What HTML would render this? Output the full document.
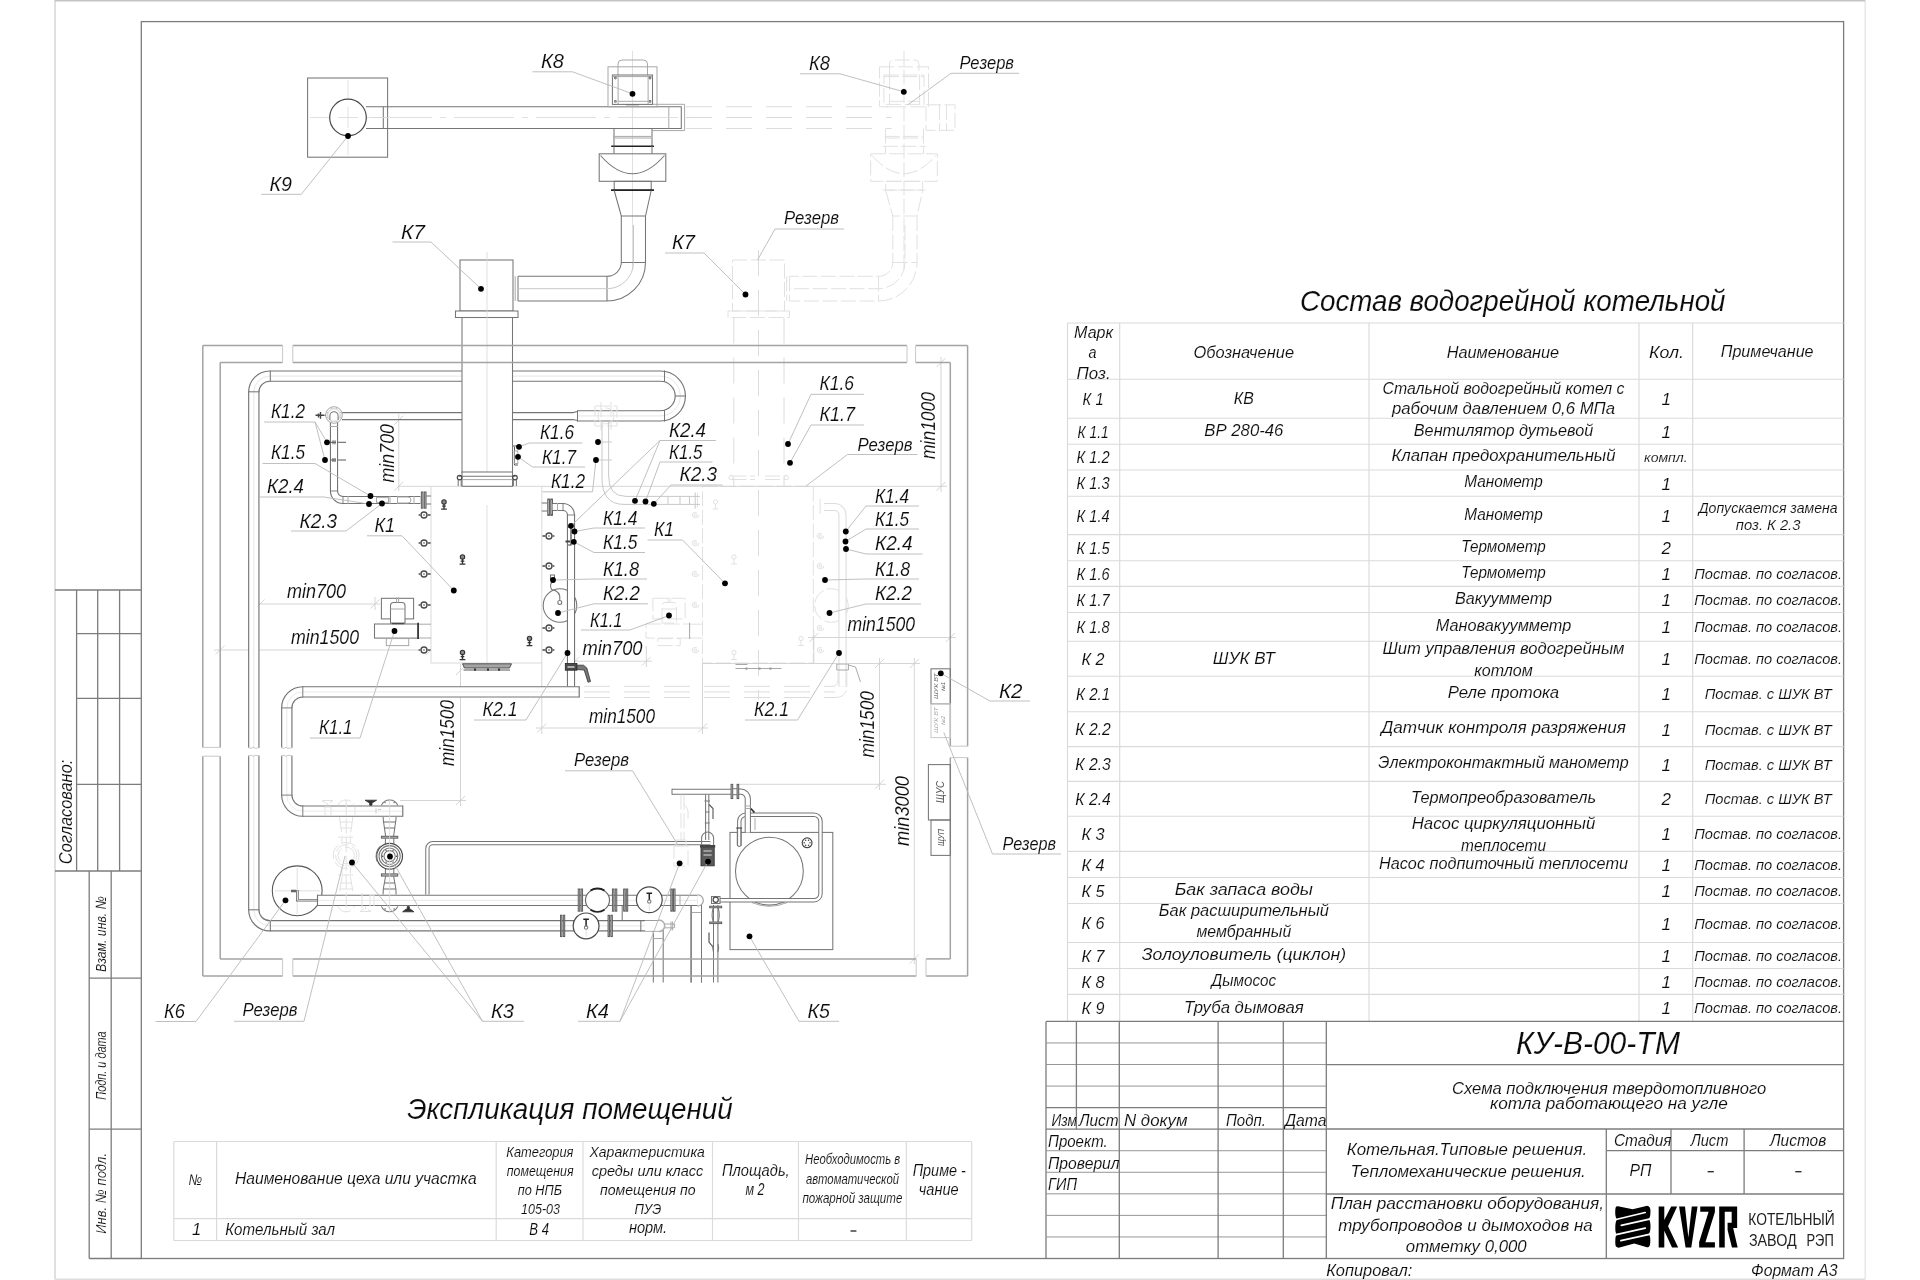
<!DOCTYPE html>
<html lang="ru"><head><meta charset="utf-8"><title>КУ-В-00-ТМ</title>
<style>
html,body{margin:0;padding:0;background:#fff;}
body{width:1920px;height:1280px;overflow:hidden;}
svg{display:block;filter:grayscale(1);}
text{font-family:"Liberation Sans",sans-serif;}
.t{font-style:italic;fill:#0c0c0c;stroke:#fff;stroke-width:0.12px;}
.tg{font-style:italic;fill:#222;}
.pg,.pg2,.fr,.fr2,.tb,.tk,.w,.m,.d,.k,.g,.v,.x,.xd,.ld,.dm,.cl{fill:none;}
.pg{stroke:#d9d9d9;stroke-width:1.6;}
.pg2{stroke:#c4c4c4;stroke-width:1.6;}
.fr{stroke:#7c7c7c;stroke-width:1.3;}
.fr2{stroke:#969696;stroke-width:1;}
.tb{stroke:#dadada;stroke-width:1.15;}
.tk{stroke:#222;stroke-width:1.3;}
.w{stroke:#a3a3a3;stroke-width:1.5;}
.m{stroke:#767676;stroke-width:1.05;}
.d{stroke:#4a4a4a;stroke-width:1.2;}
.k{stroke:#222;stroke-width:1.6;}
.g{stroke:#a8a8a8;stroke-width:1;}
.v{stroke:#c9c9c9;stroke-width:1;}
.bb{stroke:#d9d9d9;stroke-width:1;fill:none;}
.x{stroke:#e1e1e1;stroke-width:1;stroke-dasharray:15 3.5;}
.xd{stroke:#dcdcdc;stroke-width:1;stroke-dasharray:26 14;}
.ld{stroke:#b9b9b9;stroke-width:0.9;}
.dm{stroke:#cdcdcd;stroke-width:0.85;}
.cl{stroke:#d8d8d8;stroke-width:0.8;}
.pp{stroke:#747474;fill:none;}
.pw{stroke:#fff;fill:none;}
.wf{fill:#fff;}
.dot{fill:#000;stroke:none;}
.bk{fill:#222;stroke:none;}
</style></head><body>
<svg width="1920" height="1280" viewBox="0 0 1920 1280">
<rect x="0" y="0" width="1920" height="1280" style="fill:#fff"/>
<path class="pg" d="M55 0V1279.3"/>
<path class="pg" d="M55 1279.3H1865.3" style="stroke:#dcdcdc"/>
<path class="pg" d="M1865.3 0V1279.3" style="stroke:#e8e8e8"/>
<path class="pg2" d="M55 0.6L1865 0.6"/>
<rect class="fr" x="141.3" y="21.6" width="1702.3" height="1236.9"/>
<path class="fr" d="M55 590L141.3 590"/>
<path class="fr" d="M76.6 590L76.6 871"/>
<path class="fr" d="M97.7 590L97.7 871"/>
<path class="fr" d="M119.6 590L119.6 871"/>
<path class="fr" d="M76.6 633.7L141.3 633.7"/>
<path class="fr" d="M76.6 698.4L141.3 698.4"/>
<path class="fr" d="M76.6 784.3L141.3 784.3"/>
<path class="fr" d="M55 871L141.3 871"/>
<path class="fr" d="M89.2 871L89.2 1258.5"/>
<path class="fr" d="M111.2 871L111.2 1258.5"/>
<path class="fr" d="M89.2 978.2L141.3 978.2"/>
<path class="fr" d="M89.2 1129.2L141.3 1129.2"/>
<path class="fr" d="M89.2 1258.5L141.3 1258.5"/>
<text class="t" transform="translate(72.4 864.2) rotate(-90)" font-size="19" textLength="104.5" lengthAdjust="spacingAndGlyphs">Согласовано:</text>
<text class="t" transform="translate(105.6 972) rotate(-90)" font-size="15" textLength="76" lengthAdjust="spacingAndGlyphs">Взам. инв. №</text>
<text class="t" transform="translate(105.6 1099.8) rotate(-90)" font-size="15" textLength="68.5" lengthAdjust="spacingAndGlyphs">Подп. и дата</text>
<text class="t" transform="translate(105.6 1233.7) rotate(-90)" font-size="15" textLength="80.7" lengthAdjust="spacingAndGlyphs">Инв. № подл.</text>
<path class="x" d="M904 51L904 270"/>
<path class="xd" d="M686 106.8L891.5 106.8"/>
<path class="xd" d="M686 117.5L891.5 117.5"/>
<path class="xd" d="M686 128.5L891.5 128.5"/>
<rect class="x" x="926" y="104.8" width="29" height="25.5"/>
<path class="x" d="M939.5 104.8L939.5 130.3"/>
<path class="x" d="M946.5 104.8L946.5 130.3"/>
<rect class="x" x="879.5" y="66.8" width="49" height="40"/>
<path class="x" d="M889.5 75V64 Q889.5 60 893.5 60H915Q919 60 919 64V75"/>
<rect class="x" x="883.9" y="75" width="40.1" height="29.4"/>
<path class="x" d="M889.6 75L889.6 104.4"/>
<path class="x" d="M919.6 75L919.6 104.4"/>
<path class="x" d="M883.9 76.6L924 76.6"/>
<path class="x" d="M889.6 101.3L919.6 101.3"/>
<path class="x" d="M885.5 128.5L885.5 146.3"/>
<path class="x" d="M923.5 128.5L923.5 146.3"/>
<path class="x" d="M884.7 136.4L922.7 136.4"/>
<path class="x" d="M884.7 138L922.7 138"/>
<path class="x" d="M882.7 146.3L925.5 146.3"/>
<path class="x" d="M885.5 146.3L885.5 153.8"/>
<path class="x" d="M923.5 146.3L923.5 153.8"/>
<rect class="x" x="870.7" y="153.8" width="66.6" height="27.5"/>
<path class="x" d="M872 155.5Q904 192 936 155.5"/>
<rect class="x" x="885.7" y="181.3" width="37" height="8.8"/>
<path class="x" d="M882.5 190.1L925.5 190.1"/>
<path class="x" d="M885.7 190.5L892.8 216H917L922.7 190.5"/>
<path class="x" d="M892.8 216V262.5A14.3 14.3 0 0 1 878.5 276.3H789.5"/>
<path class="x" d="M917 216V262.5A38.5 38.5 0 0 1 878.5 301H789.5"/>
<path class="x" d="M892.8 262.5L917 262.5"/>
<path class="x" d="M878.5 276.3L878.5 301"/>
<path class="x" d="M789.5 276.3L789.5 301"/>
<path class="x" d="M786.7 276.3L786.7 301"/>
<path class="x" d="M905 225V262.5A26.5 26.5 0 0 1 878.5 288.7H789.5"/>

<rect class="x" x="732.5" y="260" width="52" height="51"/>
<rect class="x" x="728" y="311" width="61.5" height="6.5"/>
<path class="xd" d="M733.8 317.5L733.8 486"/>
<path class="xd" d="M784 317.5L784 486"/>
<path class="xd" d="M758.5 250L758.5 700"/>
<path class="x" d="M731.5 476L755 476"/>
<path class="x" d="M765 476L786 476"/>
<path class="x" d="M731.5 479.5L755 479.5"/>
<path class="x" d="M765 479.5L786 479.5"/>
<circle class="x" cx="731.2" cy="477.5" r="2.2"/>
<circle class="x" cx="786.2" cy="477.5" r="2.2"/>
<rect class="x" x="702.5" y="486.3" width="110.8" height="176.7"/>
<ellipse class="x" cx="695.5" cy="515" rx="3.4" ry="2.6"/>
<ellipse class="x" cx="695.5" cy="515" rx="1.4" ry="1"/>
<ellipse class="x" cx="695.5" cy="543" rx="3.4" ry="2.6"/>
<ellipse class="x" cx="695.5" cy="543" rx="1.4" ry="1"/>
<ellipse class="x" cx="695.5" cy="574" rx="3.4" ry="2.6"/>
<ellipse class="x" cx="695.5" cy="574" rx="1.4" ry="1"/>
<ellipse class="x" cx="695.5" cy="605" rx="3.4" ry="2.6"/>
<ellipse class="x" cx="695.5" cy="605" rx="1.4" ry="1"/>
<ellipse class="x" cx="695.5" cy="650" rx="3.4" ry="2.6"/>
<ellipse class="x" cx="695.5" cy="650" rx="1.4" ry="1"/>
<ellipse class="x" cx="820.5" cy="536" rx="3.4" ry="2.6"/>
<ellipse class="x" cx="820.5" cy="536" rx="1.4" ry="1"/>
<ellipse class="x" cx="820.5" cy="566" rx="3.4" ry="2.6"/>
<ellipse class="x" cx="820.5" cy="566" rx="1.4" ry="1"/>
<ellipse class="x" cx="820.5" cy="628" rx="3.4" ry="2.6"/>
<ellipse class="x" cx="820.5" cy="628" rx="1.4" ry="1"/>
<ellipse class="x" cx="820.5" cy="650" rx="3.4" ry="2.6"/>
<ellipse class="x" cx="820.5" cy="650" rx="1.4" ry="1"/>
<circle class="x" cx="715.5" cy="502" r="2.1"/>
<path class="x" d="M715.5 504V509 M712.7 509H718.3"/>
<circle class="x" cx="734" cy="557" r="2.1"/>
<path class="x" d="M734 559V564 M731.2 564H736.8"/>
<circle class="x" cx="801" cy="638.5" r="2.1"/>
<path class="x" d="M801 640.5V645.5 M798.2 645.5H803.8"/>
<circle class="x" cx="734" cy="652.5" r="2.1"/>
<path class="x" d="M734 654.5V659.5 M731.2 659.5H736.8"/>
<path class="g" d="M735.5 664.5H747.5 M735.5 668.5H781.5"/>
<rect x="745.5" y="667.5" width="2" height="2.2" fill="#999"/>
<rect x="758.5" y="667.5" width="2" height="2.2" fill="#999"/>
<rect x="769.5" y="667.5" width="2" height="2.2" fill="#999"/>
<rect class="x" x="652.9" y="598.3" width="32.2" height="20.6"/>
<path class="x" d="M662 623.1V605.5Q662 602.5 665 602.5H673.5Q676.5 602.5 676.5 605.5V623.1Z"/>
<path class="x" d="M662 609L676.5 609"/>
<path class="x" d="M668.1 597.4L668.1 602.5"/>
<path class="x" d="M670.1 597.4L670.1 602.5"/>
<rect class="x" x="646" y="624" width="43.6" height="14.1"/>
<rect class="x" x="657.8" y="638.6" width="22.4" height="7"/>
<path class="x" d="M689.6 624.2L702.5 624.2"/>
<path class="x" d="M689.6 638L702.5 638"/>
<path class="g" d="M689.6 622.7L689.6 639"/>
<circle class="x" cx="831.5" cy="605.5" r="16.8"/>
<path class="x" d="M820.1 499L820.1 515.4"/>
<path d="M824.1 507L834.5 507A8 8 0 0 1 842.5 515L842.5 686.4" stroke="#dcdcdc" stroke-width="8.2" fill="none"/>
<path d="M824.1 507L834.5 507A8 8 0 0 1 842.5 515L842.5 686.4" stroke="#fff" stroke-width="6" fill="none"/>
<path class="g" d="M836.8 664H848.4V670H836.8Z"/>
<path class="g" d="M848.5 665L855.5 667 860.5 682"/>
<path class="xd" d="M584 686.3L835 686.3"/>
<path class="xd" d="M584 691.9L835 691.9"/>
<path class="xd" d="M584 697.5L835 697.5"/>
<path class="x" d="M838 672V680Q838 686.3 832 686.3 M846.8 672V686Q846.8 697.5 835 697.5"/>
<path class="x" d="M697.5 492.5V508.7"/>
<path class="dm" d="M398 486.3L431 486.3"/>
<path class="dm" d="M541.8 486.3L947 486.3"/>
<path class="dm" d="M702.5 663.5L920 663.5"/>
<path class="dm" d="M739 784.3L886 784.3"/>
<path class="dm" d="M398.8 414L398.8 491"/>
<path class="dm" d="M394.3 424.7L403.3 415.7"/>
<path class="dm" d="M394.3 490.8L403.3 481.8"/>
<text class="t" transform="translate(394 482.5) rotate(-90)" font-size="20" textLength="58.5" lengthAdjust="spacingAndGlyphs">min700</text>
<path class="dm" d="M255 604L380 604"/>
<path class="dm" d="M255.5 608.5L264.5 599.5"/>
<path class="dm" d="M370.5 608.5L379.5 599.5"/>
<path class="dm" d="M375 597L375 610"/>
<text class="t" x="287" y="597.5" font-size="20" textLength="59" lengthAdjust="spacingAndGlyphs">min700</text>
<path class="dm" d="M214 650L436 650"/>
<path class="dm" d="M215.7 654.5L224.7 645.5"/>
<path class="dm" d="M426.5 654.5L435.5 645.5"/>
<text class="t" x="291" y="644" font-size="20" textLength="68" lengthAdjust="spacingAndGlyphs">min1500</text>
<path class="dm" d="M460.5 664L460.5 806"/>
<path class="dm" d="M456 675L465 666"/>
<path class="dm" d="M456 805L465 796"/>
<path class="dm" d="M400 800.5L466 800.5"/>
<text class="t" transform="translate(454 766) rotate(-90)" font-size="20" textLength="66" lengthAdjust="spacingAndGlyphs">min1500</text>
<path class="dm" d="M570 661.2L652 661.2"/>
<path class="dm" d="M570.7 665.7L579.7 656.7"/>
<path class="dm" d="M641.8 665.7L650.8 656.7"/>
<path class="dm" d="M646.3 646L646.3 667"/>
<text class="t" x="582.5" y="655" font-size="20" textLength="60" lengthAdjust="spacingAndGlyphs">min700</text>
<path class="dm" d="M536 728L708 728"/>
<path class="dm" d="M537.3 732.5L546.3 723.5"/>
<path class="dm" d="M698 732.5L707 723.5"/>
<path class="dm" d="M541.8 663L541.8 734"/>
<path class="dm" d="M702.5 663L702.5 734"/>
<text class="t" x="589" y="722.5" font-size="20" textLength="66" lengthAdjust="spacingAndGlyphs">min1500</text>
<path class="dm" d="M941 357L941 492"/>
<path class="dm" d="M936.5 367.1L945.5 358.1"/>
<path class="dm" d="M936.5 490.8L945.5 481.8"/>
<text class="t" transform="translate(935 459) rotate(-90)" font-size="20" textLength="67" lengthAdjust="spacingAndGlyphs">min1000</text>
<path class="dm" d="M808 637.5L956 637.5"/>
<path class="dm" d="M809.3 642L818.3 633"/>
<path class="dm" d="M945.8 642L954.8 633"/>
<path class="dm" d="M813.8 630L813.8 663"/>
<text class="t" x="847.5" y="631" font-size="20" textLength="67.5" lengthAdjust="spacingAndGlyphs">min1500</text>
<path class="dm" d="M879.5 658L879.5 790"/>
<path class="dm" d="M875 668L884 659"/>
<path class="dm" d="M875 788.8L884 779.8"/>
<text class="t" transform="translate(874 757.5) rotate(-90)" font-size="20" textLength="66.5" lengthAdjust="spacingAndGlyphs">min1500</text>
<path class="dm" d="M914.3 658L914.3 964"/>
<path class="dm" d="M909.8 668L918.8 659"/>
<path class="dm" d="M909.8 963.4L918.8 954.4"/>
<text class="t" transform="translate(909 846) rotate(-90)" font-size="20" textLength="70" lengthAdjust="spacingAndGlyphs">min3000</text>
<path d="M577.5 415.9H660.4A19.9 19.9 0 0 0 660.4 376.1H269.8A16 16 0 0 0 253.8 392.1V909.8A16 16 0 0 0 269.8 925.8H659" stroke="#747474" stroke-width="11.4" fill="none"/>
<path d="M577.5 415.9H660.4A19.9 19.9 0 0 0 660.4 376.1H269.8A16 16 0 0 0 253.8 392.1V909.8A16 16 0 0 0 269.8 925.8H659" stroke="#fff" stroke-width="9.1" fill="none"/>
<path d="M577.5 415.9H660.4A19.9 19.9 0 0 0 660.4 376.1H269.8A16 16 0 0 0 253.8 392.1V909.8A16 16 0 0 0 269.8 925.8H659" stroke="#e0e0e0" stroke-width="0.8" fill="none"/>
<path class="m" d="M664.5 370.4L664.5 381.8"/>
<path class="m" d="M664.5 410.2L664.5 421.6"/>
<path class="m" d="M675 396L686 396"/>
<path class="m" d="M270.3 370.4L270.3 381.8"/>
<path class="m" d="M248.1 391.8L259.5 391.8"/>
<path class="m" d="M248.1 909.8L259.5 909.8"/>
<path class="m" d="M270.3 920.1L270.3 931.5"/>
<path class="m" d="M640.8 920.1L640.8 931.5"/>
<path class="m" d="M577.5 410.2V421.6"/>
<path class="m" d="M577.5 411.5L573 412.6H342 M577.5 420.4L573 419.6H342"/>
<path class="x" d="M595 406h22v20h-22z M601 402v28 M611 402v28"/>
<circle class="x" cx="606" cy="415.9" r="8"/>
<path d="M513 446H517 M514.5 447V465H518" stroke="#555" stroke-width="1" fill="none"/>
<rect class="g" x="514.2" y="451" width="3.6" height="12.5"/>
<path class="v" d="M600 442H612 M598 460H612"/>
<path class="v" d="M602 421.6V478Q602 504.4 624 504.4H700"/>
<path class="v" d="M608.6 421.6V476Q608.6 496.4 626 496.4H700"/>
<path class="v" d="M668 496.4V504.4 M680 496.4V504.4 M689.5 496.4V504.4 M695.2 492.5V508.7"/>
<path class="cl" d="M632.5 51L632.5 270"/>
<rect class="m" x="307.6" y="78" width="80" height="79.2"/>
<path class="cl" d="M310 117.5L385 117.5"/>
<path class="cl" d="M348 80L348 155"/>
<path class="m" d="M366 106.8H681.3V128.5H366"/>
<path class="m" d="M383.3 106.8L383.3 128.5"/>
<path class="g" d="M668.8 106.8L668.8 128.5"/>
<path class="g" d="M652.5 104.3H684.6V130.6H652.5"/>
<path class="cl" d="M372 117.5H700" stroke-dasharray="60 8 6 8"/>
<circle class="d" cx="348" cy="117.5" r="18.3" style="fill:#fff"/>
<path class="cl" d="M338 117.5L358 117.5"/>
<path class="cl" d="M348 107L348 128"/>
<rect class="g" x="608" y="66.8" width="49" height="40"/>
<path class="g" d="M618 75V64 Q618 60 622 60H643.5Q647.5 60 647.5 64V75"/>
<rect class="m" x="612.4" y="75" width="40.1" height="29.4"/>
<path class="g" d="M618.1 75L618.1 104.4"/>
<path class="g" d="M648.1 75L648.1 104.4"/>
<path class="g" d="M612.4 76.6L652.5 76.6"/>
<path class="g" d="M618.1 101.3L648.1 101.3"/>
<circle class="m" cx="615.4" cy="78" r="0.9"/>
<circle class="m" cx="650" cy="78" r="0.9"/>
<circle class="m" cx="615.4" cy="101.4" r="0.9"/>
<circle class="m" cx="650" cy="101.4" r="0.9"/>
<path class="m" d="M626 104.5L639 104.5"/>
<path class="g" d="M626 106L639 106"/>
<path class="m" d="M614 128.5L614 146.3"/>
<path class="m" d="M652 128.5L652 146.3"/>
<path class="g" d="M613.2 136.4L651.2 136.4"/>
<path class="g" d="M613.2 138L651.2 138"/>
<path class="k" d="M611.2 146.3L654 146.3"/>
<path class="m" d="M614 146.3L614 153.8"/>
<path class="m" d="M652 146.3L652 153.8"/>
<rect class="m" x="599.2" y="153.8" width="66.6" height="27.5"/>
<path class="m" d="M600.5 155.5Q632.5 192 664.5 155.5"/>
<rect class="m" x="614.2" y="181.3" width="37" height="8.8"/>
<path class="k" d="M611 190.1L654 190.1"/>
<path class="m" d="M614.2 190.5L621.3 216H645.5L651.2 190.5"/>
<path class="m" d="M621.3 216V262.5A14.3 14.3 0 0 1 607 276.3H518"/>
<path class="m" d="M645.5 216V262.5A38.5 38.5 0 0 1 607 301H518"/>
<path class="m" d="M621.3 262.5L645.5 262.5"/>
<path class="m" d="M607 276.3L607 301"/>
<path class="m" d="M518 276.3L518 301"/>
<path class="g" d="M515.2 276.3L515.2 301"/>
<path class="v" d="M633.5 225V262.5A26.5 26.5 0 0 1 607 288.7H518"/>
<rect class="m wf" x="462" y="317.5" width="50.5" height="155"/>
<rect class="m wf" x="460" y="260" width="53" height="51"/>
<rect class="m wf" x="455.5" y="311" width="62.5" height="6.5"/>
<path class="cl" d="M487 252L487 486"/>
<rect class="bb wf" x="431" y="486.3" width="110.8" height="176.7"/>
<path class="cl" d="M487 505L487 670"/>
<rect class="m wf" x="462" y="472" width="50.5" height="14.3"/>
<path class="m" d="M459 476.2L515.5 476.2"/>
<path class="g" d="M459 479.6L515.5 479.6"/>
<circle class="d" cx="459.6" cy="477.6" r="2.3"/>
<circle class="d" cx="515" cy="477.6" r="2.3"/>
<path class="m" d="M458.2 480V486 M461.2 480V486 M513.4 480V486 M516.4 480V486"/>
<circle cx="424" cy="515" r="3" fill="#fff" stroke="#4a4a4a" stroke-width="1.4"/>
<circle cx="424" cy="515" r="0.8" fill="#444"/>
<path d="M427.4 515H430.6 M420.6 515H418.6" stroke="#777" stroke-width="2" fill="none"/>
<circle cx="424" cy="543" r="3" fill="#fff" stroke="#4a4a4a" stroke-width="1.4"/>
<circle cx="424" cy="543" r="0.8" fill="#444"/>
<path d="M427.4 543H430.6 M420.6 543H418.6" stroke="#777" stroke-width="2" fill="none"/>
<circle cx="424" cy="574" r="3" fill="#fff" stroke="#4a4a4a" stroke-width="1.4"/>
<circle cx="424" cy="574" r="0.8" fill="#444"/>
<path d="M427.4 574H430.6 M420.6 574H418.6" stroke="#777" stroke-width="2" fill="none"/>
<circle cx="424" cy="605" r="3" fill="#fff" stroke="#4a4a4a" stroke-width="1.4"/>
<circle cx="424" cy="605" r="0.8" fill="#444"/>
<path d="M427.4 605H430.6 M420.6 605H418.6" stroke="#777" stroke-width="2" fill="none"/>
<circle cx="424" cy="650" r="3" fill="#fff" stroke="#4a4a4a" stroke-width="1.4"/>
<circle cx="424" cy="650" r="0.8" fill="#444"/>
<path d="M427.4 650H430.6 M420.6 650H418.6" stroke="#777" stroke-width="2" fill="none"/>
<circle cx="549" cy="536" r="3" fill="#fff" stroke="#4a4a4a" stroke-width="1.4"/>
<circle cx="549" cy="536" r="0.8" fill="#444"/>
<path d="M545.6 536H542.4 M552.4 536H554.4" stroke="#777" stroke-width="2" fill="none"/>
<circle cx="549" cy="566" r="3" fill="#fff" stroke="#4a4a4a" stroke-width="1.4"/>
<circle cx="549" cy="566" r="0.8" fill="#444"/>
<path d="M545.6 566H542.4 M552.4 566H554.4" stroke="#777" stroke-width="2" fill="none"/>
<circle cx="549" cy="628" r="3" fill="#fff" stroke="#4a4a4a" stroke-width="1.4"/>
<circle cx="549" cy="628" r="0.8" fill="#444"/>
<path d="M545.6 628H542.4 M552.4 628H554.4" stroke="#777" stroke-width="2" fill="none"/>
<circle cx="549" cy="650" r="3" fill="#fff" stroke="#4a4a4a" stroke-width="1.4"/>
<circle cx="549" cy="650" r="0.8" fill="#444"/>
<path d="M545.6 650H542.4 M552.4 650H554.4" stroke="#777" stroke-width="2" fill="none"/>
<circle cx="444" cy="501.9" r="2.2" fill="#8a8a8a" stroke="#333" stroke-width="1.1"/>
<path d="M444 504.1V509.1 M441.1 509.1H446.9 M442.2 506.1H445.8" stroke="#333" stroke-width="1.4" fill="none"/>
<circle cx="462.5" cy="556.9" r="2.2" fill="#8a8a8a" stroke="#333" stroke-width="1.1"/>
<path d="M462.5 559.1V564.1 M459.6 564.1H465.4 M460.7 561.1H464.3" stroke="#333" stroke-width="1.4" fill="none"/>
<circle cx="529.5" cy="638.4" r="2.2" fill="#8a8a8a" stroke="#333" stroke-width="1.1"/>
<path d="M529.5 640.6V645.6 M526.6 645.6H532.4 M527.7 642.6H531.3" stroke="#333" stroke-width="1.4" fill="none"/>
<circle cx="462.5" cy="652.4" r="2.2" fill="#8a8a8a" stroke="#333" stroke-width="1.1"/>
<path d="M462.5 654.6V659.6 M459.6 659.6H465.4 M460.7 656.6H464.3" stroke="#333" stroke-width="1.4" fill="none"/>
<path d="M462.5 663.8H511.5L509.5 668H464.5Z" fill="#a5a5a5" stroke="#444" stroke-width="0.9"/>
<path d="M463.5 670H510" stroke="#555" stroke-width="1"/>
<rect x="474" y="668.5" width="2" height="2.2" fill="#333"/>
<rect x="487" y="668.5" width="2" height="2.2" fill="#333"/>
<rect x="498" y="668.5" width="2" height="2.2" fill="#333"/>
<rect class="m" x="381.4" y="598.3" width="32.2" height="20.6"/>
<path class="m wf" d="M390.5 623.1V605.5Q390.5 602.5 393.5 602.5H402Q405 602.5 405 605.5V623.1Z"/>
<path class="g" d="M390.5 609L405 609"/>
<path class="g" d="M396.6 597.4L396.6 602.5"/>
<path class="g" d="M398.6 597.4L398.6 602.5"/>
<rect class="m" x="374.5" y="624" width="43.6" height="14.1"/>
<rect class="g" x="386.3" y="638.6" width="22.4" height="7"/>
<path class="g" d="M418.1 624.2L431 624.2"/>
<path class="g" d="M418.1 638L431 638"/>
<path d="M418.1 622.7V639" stroke="#333" stroke-width="1.7"/>
<path class="d" d="M392 623.6L404 623.6"/>
<path d="M334 419.5L334 491A9 9 0 0 0 343 500L420.5 500" stroke="#747474" stroke-width="8.2" fill="none"/>
<path d="M334 419.5L334 491A9 9 0 0 0 343 500L420.5 500" stroke="#fff" stroke-width="6" fill="none"/>
<path d="M329.9 491L338.1 491" stroke="#747474" stroke-width="0.88" fill="none"/>
<path d="M343 495.9L343 504.1" stroke="#747474" stroke-width="0.88" fill="none"/>
<rect x="421.35" y="492" width="1.7" height="16.2" fill="#bdbdbd" stroke="#555" stroke-width="0.9"/>
<rect x="424.35" y="492" width="1.7" height="16.2" fill="#bdbdbd" stroke="#555" stroke-width="0.9"/>
<path class="m" d="M426.2 496L431 496"/>
<path class="m" d="M426.2 504L431 504"/>
<path class="g" d="M348 495.9L348 504.1"/>
<path class="g" d="M390 495.9L390 504.1"/>
<path class="g" d="M397.5 495.9L397.5 504.1"/>
<path class="g" d="M397.5 497H408A3 3 0 0 1 408 503H397.5"/>
<path class="g" d="M414 495.9L414 504.1"/>
<rect class="g" x="376.5" y="497.6" width="12" height="4.8"/>
<circle class="g" cx="334" cy="415" r="8.3" style="fill:#fff"/>
<circle class="v" cx="334" cy="415" r="6.3"/>
<path d="M329.9 420V415.8A4.1 4.1 0 0 1 338.1 415.8V420" class="m" style="fill:#fff"/>
<path d="M315.5 415.3H324 M320.5 412V418.8 M318.5 413.4V417.4" stroke="#444" stroke-width="1.4" fill="none"/>
<path class="m" d="M324 415.3L326 415.3"/>
<circle cx="340.77" cy="417.73" r="0.5" fill="#999"/>
<circle cx="336.85" cy="421.72" r="0.5" fill="#999"/>
<circle cx="331.27" cy="421.77" r="0.5" fill="#999"/>
<circle cx="327.28" cy="417.85" r="0.5" fill="#999"/>
<circle cx="327.23" cy="412.27" r="0.5" fill="#999"/>
<circle cx="331.15" cy="408.28" r="0.5" fill="#999"/>
<circle cx="336.73" cy="408.23" r="0.5" fill="#999"/>
<circle cx="340.72" cy="412.15" r="0.5" fill="#999"/>
<path class="g" d="M329.9 426.5L338.1 426.5"/>
<path d="M330 442.3H336 M333 440.3V444.3 M335 440.3V444.3" stroke="#555" stroke-width="1" fill="none"/>
<path d="M338.1 442.3H346" stroke="#666" stroke-width="1.1"/>
<path d="M330 460H336 M333 458V462 M335 458V462" stroke="#555" stroke-width="1" fill="none"/>
<path d="M338.1 460H346" stroke="#666" stroke-width="1.1"/>
<circle class="m" cx="560" cy="605.5" r="16.8"/>
<path class="m" d="M551.5 589.5Q549 583.5 553 581.5 M551.5 589.5Q561 591 559.8 600"/>
<circle class="m" cx="559.8" cy="602.5" r="2"/>
<rect class="m" x="550.5" y="575" width="4" height="4.5"/>
<rect x="532" y="585" width="9.2" height="42" fill="#fff" stroke="none"/>
<rect x="547.75" y="499" width="1.7" height="16.4" fill="#bdbdbd" stroke="#555" stroke-width="0.9"/>
<rect x="550.75" y="499" width="1.7" height="16.4" fill="#bdbdbd" stroke="#555" stroke-width="0.9"/>
<path class="m" d="M541.8 503L547.6 503"/>
<path class="m" d="M541.8 511L547.6 511"/>
<path d="M552.6 507L563 507A8 8 0 0 1 571 515L571 686.4" stroke="#747474" stroke-width="8.2" fill="none"/>
<path d="M552.6 507L563 507A8 8 0 0 1 571 515L571 686.4" stroke="#fff" stroke-width="6" fill="none"/>
<path d="M563 511.1L563 502.9" stroke="#747474" stroke-width="0.88" fill="none"/>
<path d="M575.1 515L566.9 515" stroke="#747474" stroke-width="0.88" fill="none"/>
<path class="g" d="M557.5 503L557.5 511"/>
<path d="M568 527H571V545H568" stroke="#444" stroke-width="1.2" fill="none"/>
<path d="M565.5 541.5H570" stroke="#444" stroke-width="2"/>
<rect x="565.3" y="663.6" width="11.6" height="6.6" fill="#4a4a4a" stroke="#222" stroke-width="0.8"/>
<path d="M567.5 667H574.5" stroke="#ddd" stroke-width="1.4"/>
<path d="M577 665.2H583.5L586.8 668 590.5 681.5 588 682.2 584.2 670 577 669.6Z" fill="#777" stroke="#333" stroke-width="0.8"/>
<circle class="m" cx="297.2" cy="890.8" r="24.9" style="fill:#fff;stroke:#555"/>
<path class="cl" d="M275 890.8L320 890.8"/>
<path class="cl" d="M297.2 868L297.2 914"/>
<path d="M291 891H296 M297.4 890V900.2H317.5" stroke="#666" stroke-width="2.6" fill="none"/>
<path d="M297.4 890.4V900.2H317.5" stroke="#fff" stroke-width="0.9" fill="none"/>
<path d="M579.2 691.9L302.8 691.9A16 16 0 0 0 286.8 707.9L286.8 795.1A16 16 0 0 0 302.8 811.1L402.8 811.1" stroke="#747474" stroke-width="11.4" fill="none"/>
<path d="M579.2 691.9L302.8 691.9A16 16 0 0 0 286.8 707.9L286.8 795.1A16 16 0 0 0 302.8 811.1L402.8 811.1" stroke="#fff" stroke-width="9.1" fill="none"/>
<path d="M579.2 691.9L302.8 691.9A16 16 0 0 0 286.8 707.9L286.8 795.1A16 16 0 0 0 302.8 811.1L402.8 811.1" stroke="#e4e4e4" stroke-width="0.8" fill="none"/>
<path d="M579.2 697.6L579.2 686.2" stroke="#747474" stroke-width="1.15" fill="none"/>
<path d="M402.8 816.8L402.8 805.4" stroke="#747474" stroke-width="1.15" fill="none"/>
<path d="M302.8 686.2L302.8 697.6" stroke="#747474" stroke-width="0.92" fill="none"/>
<path d="M292.5 707.9L281.1 707.9" stroke="#747474" stroke-width="0.92" fill="none"/>
<path d="M281.1 795.1L292.5 795.1" stroke="#747474" stroke-width="0.92" fill="none"/>
<path d="M302.8 805.4L302.8 816.8" stroke="#747474" stroke-width="0.92" fill="none"/>
<path class="m" d="M691.1 900L691.1 982.5"/>
<path class="m" d="M701.5 900L701.5 982.5"/>
<path class="g" d="M691.1 912.5L701.5 912.5"/>
<path d="M317.5 900.4L697.6 900.4" stroke="#747474" stroke-width="11.4" fill="none"/>
<path d="M317.5 900.4L697.6 900.4" stroke="#fff" stroke-width="9.1" fill="none"/>
<path d="M317.5 900.4L697.6 900.4" stroke="#e4e4e4" stroke-width="0.8" fill="none"/>
<path d="M317.5 894.7L317.5 906.1" stroke="#747474" stroke-width="1.15" fill="none"/>
<path d="M697.6 894.7A5.7 5.7 0 0 1 697.6 906.1" stroke="#9a9a9a" stroke-width="1.1" fill="#fff"/>
<path class="m" d="M691.1 906.1L691.1 982.5"/>
<path class="m" d="M701.5 906.1L701.5 982.5"/>
<path class="m" d="M653.3 926L653.3 982.5"/>
<path class="m" d="M663.2 926L663.2 982.5"/>
<path class="g" d="M653.3 938.5L663.2 938.5"/>
<rect x="645" y="920.7" width="14" height="10.2" fill="#fff" stroke="none"/>
<path d="M659 920.1A5.7 5.7 0 0 1 659 931.5" stroke="#b0b0b0" stroke-width="1.6" fill="#fff"/>
<path class="g" d="M664.8 924H674.6V927.8H664.8 M671 921.5V930.3 M672.6 921.5V930.3"/>
<path class="m" d="M622.2 906.1L622.2 920.1"/>
<path class="m" d="M713.5 905L713.5 982.5"/>
<path class="m" d="M717.9 905L717.9 982.5"/>
<rect x="246" y="748" width="50" height="7.6" fill="#fff" stroke="none"/>
<path class="v" d="M248.1 747.6l3 .8 2-1.2 2 1.2 4.4-.8 M248.1 756l3-.8 2 1.2 2-1.2 4.4.8"/>
<path class="v" d="M281 747.6l3 .8 2-1.2 2 1.2 4.5-.8 M281 756l3-.8 2 1.2 2-1.2 4.5.8"/>
<rect class="m" x="730" y="832.4" width="102.8" height="117.2"/>
<circle class="m" cx="769.4" cy="871.2" r="33.9" style="fill:#fff"/>
<path class="g" d="M752 902.6Q769.4 910 787 902.6"/>
<path d="M427.4 894.4L427.4 848.7A5.5 5.5 0 0 1 432.9 843.2L710.3 843.2" stroke="#747474" stroke-width="4.3" fill="none"/>
<path d="M427.4 894.4L427.4 848.7A5.5 5.5 0 0 1 432.9 843.2L710.3 843.2" stroke="#fff" stroke-width="2.3" fill="none"/>
<path d="M739.3 846L739.3 821.2A6.5 6.5 0 0 1 745.8 814.7L814 814.7A6.5 6.5 0 0 1 820.5 821.2L820.5 893.7A6.5 6.5 0 0 1 814 900.2L720.1 900.2" stroke="#747474" stroke-width="4.4" fill="none"/>
<path d="M739.3 846L739.3 821.2A6.5 6.5 0 0 1 745.8 814.7L814 814.7A6.5 6.5 0 0 1 820.5 821.2L820.5 893.7A6.5 6.5 0 0 1 814 900.2L720.1 900.2" stroke="#fff" stroke-width="2.4" fill="none"/>
<path d="M738.7 791.7L740.8 791.7A7 7 0 0 1 747.8 798.7L747.8 832.4" stroke="#747474" stroke-width="6.2" fill="none"/>
<path d="M738.7 791.7L740.8 791.7A7 7 0 0 1 747.8 798.7L747.8 832.4" stroke="#fff" stroke-width="4.2" fill="none"/>
<path d="M672 791.7L731.2 791.7" stroke="#747474" stroke-width="6" fill="none"/>
<path d="M672 791.7L731.2 791.7" stroke="#fff" stroke-width="4" fill="none"/>
<path d="M672 788.7L672 794.7" stroke="#747474" stroke-width="1" fill="none"/>
<rect x="731.05" y="784.3" width="1.7" height="14.3" fill="#bdbdbd" stroke="#555" stroke-width="0.9"/>
<rect x="737.05" y="784.3" width="1.7" height="14.3" fill="#bdbdbd" stroke="#555" stroke-width="0.9"/>
<path class="m" d="M733 788.7L737 788.7"/>
<path class="m" d="M733 794.7L737 794.7"/>
<circle class="d" cx="807.1" cy="842.8" r="4.9"/>
<circle cx="810" cy="842.8" r="0.75" fill="#444"/>
<circle cx="808.55" cy="845.31" r="0.75" fill="#444"/>
<circle cx="805.65" cy="845.31" r="0.75" fill="#444"/>
<circle cx="804.2" cy="842.8" r="0.75" fill="#444"/>
<circle cx="805.65" cy="840.29" r="0.75" fill="#444"/>
<circle cx="808.55" cy="840.29" r="0.75" fill="#444"/>
<path class="m" d="M737.3 828V844.5A1.9 1.9 0 0 0 741.1 844.5V828"/>
<path class="d" d="M736.3 828L742.1 828"/>
<path class="g" d="M745 806H751 M745 808.5H751 M755 818V830"/>
<path d="M750.8 808.5L754.5 812.5" stroke="#333" stroke-width="1.8"/>
<path class="x" d="M338 805.4A8.9 8.9 0 0 1 354.4 805.4"/>
<path class="x" d="M339.7 817L339.9 820 342.2 836.2 M352.7 817L352.5 820 350.2 836.2"/>
<path class="x" d="M339.8 822L352.6 822"/>
<path class="x" d="M340.8 828L351.6 828"/>
<path class="x" d="M338 837.2L354.4 837.2"/>
<path class="x" d="M338 875L354.4 875"/>
<path class="x" d="M342 838.2L342 845"/>
<path class="x" d="M350.4 838.2L350.4 845"/>
<path class="x" d="M342 867L342 874"/>
<path class="x" d="M350.4 867L350.4 874"/>
<circle class="x" cx="346.2" cy="855.4" r="12.9" style="fill:#fff"/>
<circle class="x" cx="346.2" cy="855.4" r="10.6"/>
<circle class="x" cx="346.2" cy="855.4" r="8.2"/>
<path class="x" d="M342.2 876.2L339.9 889 339.7 894.4 M350.2 876.2L352.5 889 352.7 894.4"/>
<path class="x" d="M341 883L351.4 883"/>
<path class="x" d="M340 889L352.4 889"/>
<path class="x" d="M338 906.4A8.9 8.9 0 0 0 354.4 906.4"/>
<path class="x" d="M346.2 800L346.2 912"/>
<path class="m" d="M381.4 805.4A8.9 8.9 0 0 1 397.8 805.4"/>
<path class="m" d="M383.1 817L383.3 820 385.6 836.2 M396.1 817L395.9 820 393.6 836.2"/>
<path class="m" d="M383.2 822L396 822"/>
<path class="m" d="M384.2 828L395 828"/>
<rect x="381.4" y="836.25" width="16.4" height="1.9" fill="#bdbdbd" stroke="#555" stroke-width="0.9"/>
<rect x="381.4" y="873.9" width="16.4" height="2.2" fill="#bdbdbd" stroke="#555" stroke-width="0.9"/>
<path class="m" d="M385.4 838.2L385.4 845"/>
<path class="m" d="M393.8 838.2L393.8 845"/>
<path class="m" d="M385.4 867L385.4 874"/>
<path class="m" d="M393.8 867L393.8 874"/>
<circle class="d" cx="389.6" cy="856.2" r="12.9" style="fill:#fff"/>
<circle class="m" cx="389.6" cy="856.2" r="10.6"/>
<circle class="m" cx="389.6" cy="856.2" r="8.2"/>
<circle class="m" cx="389.6" cy="856.2" r="5.6"/>
<circle cx="396.6" cy="856.2" r="0.7" fill="#444"/>
<circle cx="393.1" cy="862.26" r="0.7" fill="#444"/>
<circle cx="386.1" cy="862.26" r="0.7" fill="#444"/>
<circle cx="382.6" cy="856.2" r="0.7" fill="#444"/>
<circle cx="386.1" cy="850.14" r="0.7" fill="#444"/>
<circle cx="393.1" cy="850.14" r="0.7" fill="#444"/>
<path d="M377 861.2A13.6 13.6 0 0 1 380.6 846" class="m"/>
<path class="m" d="M385.6 876.2L383.3 889 383.1 894.4 M393.6 876.2L395.9 889 396.1 894.4"/>
<path class="m" d="M384.4 883L394.8 883"/>
<path class="m" d="M383.4 889L395.8 889"/>
<path class="m" d="M381.4 906.4A8.9 8.9 0 0 0 397.8 906.4"/>
<circle cx="385.1" cy="909" r="0.7" fill="#555"/>
<circle cx="385.1" cy="802.6" r="0.7" fill="#555"/>
<circle cx="394.1" cy="909" r="0.7" fill="#555"/>
<circle cx="394.1" cy="802.6" r="0.7" fill="#555"/>
<path class="cl" d="M389.6 800L389.6 912"/>
<path d="M365 800.2H376.6L373 802.4H368.6Z M369.6 802.4H372V805.2H369.6Z" fill="#333" stroke="#333" stroke-width="0.8"/>
<path d="M402.6 911.8H414L410.5 909.2H406Z M407.2 909.2H409.4V906.6H407.2Z" fill="#333" stroke="#333" stroke-width="0.8"/>
<path class="x" d="M322 800.5H333L329.5 803H325.5Z M327.4 803V805.4"/>
<path class="x" d="M360 911.5H371L367.5 909H363.5Z M365.5 909V906.6"/>
<path class="x" d="M325 807H331V815H325Z M355 807V815 M362 893V908 M370 895H374V906H370Z"/>
<path class="v" d="M376 808.5V813.5 M378 809.5H381"/>
<rect x="578.2" y="889" width="1.6" height="22.2" fill="#bdbdbd" stroke="#555" stroke-width="0.9"/>
<rect x="581" y="889" width="1.6" height="22.2" fill="#bdbdbd" stroke="#555" stroke-width="0.9"/>
<rect x="612.4" y="889" width="1.6" height="22.2" fill="#bdbdbd" stroke="#555" stroke-width="0.9"/>
<rect x="615.2" y="889" width="1.6" height="22.2" fill="#bdbdbd" stroke="#555" stroke-width="0.9"/>
<ellipse cx="597.5" cy="900.2" rx="12" ry="11.3" fill="#fff" stroke="#666" stroke-width="1.1"/>
<path d="M590.5 890.6A12 11.3 0 0 1 604.5 890.6 M590.5 909.8A12 11.3 0 0 0 604.5 909.8" stroke="#222" stroke-width="1.8" fill="none"/>
<rect x="623.65" y="889" width="1.5" height="22.2" fill="#bdbdbd" stroke="#555" stroke-width="0.9"/>
<rect x="626.25" y="889" width="1.5" height="22.2" fill="#bdbdbd" stroke="#555" stroke-width="0.9"/>
<circle class="d" cx="649.3" cy="899.8" r="12.9" style="fill:#fff"/>
<path d="M646.5 893.2H652.1 M649.3 893.2V900.3" stroke="#222" stroke-width="1.5" fill="none"/>
<circle class="m" cx="649.3" cy="901.4" r="1.7"/>
<path class="cl" d="M649.3 903.3L649.3 910.8"/>
<rect x="670.85" y="889" width="1.5" height="22.2" fill="#bdbdbd" stroke="#555" stroke-width="0.9"/>
<rect x="673.55" y="889" width="1.5" height="22.2" fill="#bdbdbd" stroke="#555" stroke-width="0.9"/>
<path class="g" d="M680 894.7L680 906.1"/>
<rect x="560.45" y="915.2" width="1.5" height="21.4" fill="#bdbdbd" stroke="#555" stroke-width="0.9"/>
<rect x="563.25" y="915.2" width="1.5" height="21.4" fill="#bdbdbd" stroke="#555" stroke-width="0.9"/>
<circle class="d" cx="586.1" cy="925.9" r="12.9" style="fill:#fff"/>
<path d="M583.3 919.3H588.9 M586.1 919.3V926.4" stroke="#222" stroke-width="1.5" fill="none"/>
<circle class="m" cx="586.1" cy="927.5" r="1.7"/>
<path class="cl" d="M586.1 929.4L586.1 936.9"/>
<rect x="608.05" y="915.2" width="1.5" height="21.4" fill="#bdbdbd" stroke="#555" stroke-width="0.9"/>
<rect x="610.85" y="915.2" width="1.5" height="21.4" fill="#bdbdbd" stroke="#555" stroke-width="0.9"/>
<path class="x" d="M681 794.7V840 M684 794.7V840 M674 846H688V866H674Z M676 840H686V846H676Z"/>
<path class="x" d="M684 805Q689 808 688 816V822"/>
<path class="m" d="M705.6 794.7V840 M708.8 794.7V840"/>
<path class="m" d="M704.5 801H710 M704.8 823H709.6 M705 812H709.4"/>
<path d="M709 804.5L713 808.5V819" stroke="#555" stroke-width="1.1" fill="none"/>
<path class="m" d="M701.6 846V838A6 6 0 0 1 713.6 838V846"/>
<rect x="701" y="846.4" width="13.2" height="19.4" fill="#5a5a5a" stroke="#333" stroke-width="0.9"/>
<path d="M703.5 851H711.7 M703.5 855H711.7" stroke="#ddd" stroke-width="1.2"/>
<rect x="700" y="845" width="15.2" height="2.6" fill="#444"/>
<path class="m" d="M711.5 896.5H720V903.5H711.5Z"/>
<circle class="d" cx="715.7" cy="899.8" r="2.6"/>
<rect x="709.7" y="906.2" width="12" height="1.6" fill="#bdbdbd" stroke="#555" stroke-width="0.9"/>
<rect x="709.7" y="922" width="12" height="1.6" fill="#bdbdbd" stroke="#555" stroke-width="0.9"/>
<path class="m" d="M713.2 908Q711 915 713.2 922 M718.2 908Q720.4 915 718.2 922"/>
<path d="M709 932.5V942L713 947" stroke="#555" stroke-width="1.2" fill="none"/>
<path class="m" d="M713.5 944Q712 948 713.5 952 M717.9 944Q719.4 948 717.9 952"/>
<path class="w" d="M202.8 345.4L282.6 345.4"/>
<path class="w" d="M292.8 345.4L907 345.4"/>
<path class="w" d="M915.6 345.4L967.6 345.4"/>
<path class="w" d="M220.2 362.6L282.6 362.6"/>
<path class="w" d="M292.8 362.6L907 362.6"/>
<path class="w" d="M915.6 362.6L950.3 362.6"/>
<path class="w" d="M202.8 976L282.6 976"/>
<path class="w" d="M292.8 976L916.2 976"/>
<path class="w" d="M926 976L967.6 976"/>
<path class="w" d="M220.2 958.9L282.6 958.9"/>
<path class="w" d="M292.8 958.9L916.2 958.9"/>
<path class="w" d="M926 958.9L950.3 958.9"/>
<path class="w" d="M202.8 345.4L202.8 747.4"/>
<path class="w" d="M202.8 756.2L202.8 976"/>
<path class="w" d="M220.2 362.6L220.2 747.4"/>
<path class="w" d="M220.2 756.2L220.2 958.9"/>
<path class="w" d="M967.6 345.4L967.6 746.2"/>
<path class="w" d="M967.6 757.6L967.6 976"/>
<path class="w" d="M950.3 362.6L950.3 746.2"/>
<path class="w" d="M950.3 757.6L950.3 958.9"/>
<path class="v" d="M282.6 345.4L282.6 362.6"/>
<path class="v" d="M292.8 345.4L292.8 362.6"/>
<path class="v" d="M907 345.4L907 362.6"/>
<path class="v" d="M915.6 345.4L915.6 362.6"/>
<path class="v" d="M282.6 958.9L282.6 976"/>
<path class="v" d="M292.8 958.9L292.8 976"/>
<path class="v" d="M916.2 958.9L916.2 976"/>
<path class="v" d="M926 958.9L926 976"/>
<path class="v" d="M202.8 747.4L220.2 747.4"/>
<path class="v" d="M202.8 756.2L220.2 756.2"/>
<path class="v" d="M950.3 746.2L967.6 746.2"/>
<path class="v" d="M950.3 757.6L967.6 757.6"/>
<rect class="m" x="931" y="668.8" width="19.3" height="35"/>
<rect class="v" x="931" y="703.8" width="19.3" height="33.8"/>
<rect class="m" x="928.4" y="764.6" width="21.9" height="55.4"/>
<rect class="m" x="931" y="820" width="19.3" height="35.4"/>
<text class="tg" transform="translate(937.5 699) rotate(-90)" font-size="5.6" textLength="26" lengthAdjust="spacingAndGlyphs" style="fill:#666">ШУК ВТ</text>
<text class="tg" transform="translate(945 691) rotate(-90)" font-size="5" textLength="9" lengthAdjust="spacingAndGlyphs" style="fill:#444">№1</text>
<text class="tg" transform="translate(937.5 733) rotate(-90)" font-size="5.6" textLength="26" lengthAdjust="spacingAndGlyphs" style="fill:#aaa">ШУК ВТ</text>
<text class="tg" transform="translate(945 725) rotate(-90)" font-size="5" textLength="9" lengthAdjust="spacingAndGlyphs" style="fill:#999">№2</text>
<text class="tg" transform="translate(943.5 803) rotate(-90)" font-size="10" textLength="22" lengthAdjust="spacingAndGlyphs" style="fill:#555">ЩУС</text>
<text class="tg" transform="translate(943.5 846) rotate(-90)" font-size="8.5" textLength="17" lengthAdjust="spacingAndGlyphs" style="fill:#555">ЩУП</text>
<path class="ld" d="M261.3 194.3L301.3 194.3"/>
<path class="ld" d="M301.3 194.3L348 136"/>
<text class="t" x="269.5" y="191" font-size="20" textLength="22.5" lengthAdjust="spacingAndGlyphs">К9</text>
<path class="ld" d="M532.5 71.8L572.5 71.8"/>
<path class="ld" d="M572.5 71.8L632.5 93.8"/>
<text class="t" x="541" y="68" font-size="20" textLength="23" lengthAdjust="spacingAndGlyphs">К8</text>
<path class="ld" d="M800 73.8L840 73.8"/>
<path class="ld" d="M840 73.8L903.8 91.8"/>
<text class="t" x="809" y="70" font-size="20" textLength="21" lengthAdjust="spacingAndGlyphs">К8</text>
<path class="ld" d="M951 73.3L1019 73.3"/>
<path class="ld" d="M951 73.3L907.5 105"/>
<text class="t" x="959.5" y="68.8" font-size="18.5" textLength="54.5" lengthAdjust="spacingAndGlyphs">Резерв</text>
<path class="ld" d="M392.5 242L431 242"/>
<path class="ld" d="M431 242L481 288.8"/>
<text class="t" x="401" y="239" font-size="20" textLength="24" lengthAdjust="spacingAndGlyphs">К7</text>
<path class="ld" d="M665 253L704 253"/>
<path class="ld" d="M704 253L745.5 294.5"/>
<text class="t" x="672" y="249" font-size="20" textLength="23" lengthAdjust="spacingAndGlyphs">К7</text>
<path class="ld" d="M775 229L844 229"/>
<path class="ld" d="M775 229L757.5 260"/>
<text class="t" x="784" y="224" font-size="18.5" textLength="55" lengthAdjust="spacingAndGlyphs">Резерв</text>
<path class="ld" d="M264 422L315 422"/>
<path class="ld" d="M315 422L327 442.3"/>
<path class="ld" d="M315 422L325 460"/>
<text class="t" x="271" y="418" font-size="20" textLength="34" lengthAdjust="spacingAndGlyphs">К1.2</text>
<path class="ld" d="M262.5 463.5L315 463.5"/>
<path class="ld" d="M315 463.5L370.5 496"/>
<text class="t" x="271" y="459" font-size="20" textLength="34" lengthAdjust="spacingAndGlyphs">К1.5</text>
<path class="ld" d="M259 497L324 497"/>
<path class="ld" d="M324 497L369 504"/>
<text class="t" x="267" y="493" font-size="20" textLength="37" lengthAdjust="spacingAndGlyphs">К2.4</text>
<path class="ld" d="M291 531L346 531"/>
<path class="ld" d="M346 531L382 503.5"/>
<text class="t" x="299.5" y="527.5" font-size="20" textLength="37.5" lengthAdjust="spacingAndGlyphs">К2.3</text>
<path class="ld" d="M367 535.8L402 535.8"/>
<path class="ld" d="M402 535.8L453.8 590.5"/>
<text class="t" x="374.5" y="532" font-size="20" textLength="20.5" lengthAdjust="spacingAndGlyphs">К1</text>
<path class="ld" d="M529 443L582.5 443"/>
<path class="ld" d="M529 443L519 446.8"/>
<text class="t" x="540" y="439" font-size="20" textLength="34" lengthAdjust="spacingAndGlyphs">К1.6</text>
<path class="ld" d="M532.5 467L585 467"/>
<path class="ld" d="M532.5 467L518 456.8"/>
<text class="t" x="542" y="464" font-size="20" textLength="34" lengthAdjust="spacingAndGlyphs">К1.7</text>
<path class="ld" d="M542.5 491.8L592.5 491.8"/>
<path class="ld" d="M592.5 491.8L596 460"/>
<text class="t" x="551" y="488" font-size="20" textLength="34" lengthAdjust="spacingAndGlyphs">К1.2</text>
<path class="ld" d="M594 528L645 528"/>
<path class="ld" d="M594 528L574.5 531.5"/>
<text class="t" x="603" y="524.5" font-size="20" textLength="34.5" lengthAdjust="spacingAndGlyphs">К1.4</text>
<path class="ld" d="M594 552.5L645 552.5"/>
<path class="ld" d="M594 552.5L573.8 541.8"/>
<text class="t" x="603" y="549" font-size="20" textLength="34.5" lengthAdjust="spacingAndGlyphs">К1.5</text>
<path class="ld" d="M594 579L647 579"/>
<path class="ld" d="M594 579L553 580"/>
<text class="t" x="603" y="575.5" font-size="20" textLength="36" lengthAdjust="spacingAndGlyphs">К1.8</text>
<path class="ld" d="M594 603.8L648 603.8"/>
<path class="ld" d="M594 603.8L558 613"/>
<text class="t" x="603" y="600" font-size="20" textLength="37" lengthAdjust="spacingAndGlyphs">К2.2</text>
<path class="ld" d="M581 630L630 630"/>
<path class="ld" d="M630 630L669 615.5"/>
<text class="t" x="590" y="627" font-size="20" textLength="32.5" lengthAdjust="spacingAndGlyphs">К1.1</text>
<path class="ld" d="M660 440.5L716 440.5"/>
<path class="ld" d="M660 440.5L635 500.8"/>
<path class="ld" d="M660 440.5L571 525.8"/>
<text class="t" x="669" y="437" font-size="20" textLength="37" lengthAdjust="spacingAndGlyphs">К2.4</text>
<path class="ld" d="M660 462L712.5 462"/>
<path class="ld" d="M660 462L645.5 501.5"/>
<text class="t" x="669" y="459" font-size="20" textLength="33.5" lengthAdjust="spacingAndGlyphs">К1.5</text>
<path class="ld" d="M671 485L722.5 485"/>
<path class="ld" d="M671 485L653.8 503.8"/>
<text class="t" x="679.5" y="481" font-size="20" textLength="37.5" lengthAdjust="spacingAndGlyphs">К2.3</text>
<path class="ld" d="M811 394.3L864 394.3"/>
<path class="ld" d="M811 394.3L788 444"/>
<text class="t" x="819.5" y="390" font-size="20" textLength="34.5" lengthAdjust="spacingAndGlyphs">К1.6</text>
<path class="ld" d="M811 425L864 425"/>
<path class="ld" d="M811 425L790 462.8"/>
<text class="t" x="819.5" y="420.5" font-size="20" textLength="35.5" lengthAdjust="spacingAndGlyphs">К1.7</text>
<path class="ld" d="M847.5 454.5L917.5 454.5"/>
<path class="ld" d="M847.5 454.5L806 486"/>
<text class="t" x="857.5" y="450.5" font-size="18.5" textLength="55" lengthAdjust="spacingAndGlyphs">Резерв</text>
<path class="ld" d="M647.5 540L682.5 540"/>
<path class="ld" d="M682.5 540L725 583.3"/>
<text class="t" x="654" y="536" font-size="20" textLength="20" lengthAdjust="spacingAndGlyphs">К1</text>
<path class="ld" d="M866 506L919 506"/>
<path class="ld" d="M866 506L845.8 531.5"/>
<text class="t" x="875" y="502.5" font-size="20" textLength="34" lengthAdjust="spacingAndGlyphs">К1.4</text>
<path class="ld" d="M866 529L919 529"/>
<path class="ld" d="M866 529L845.5 541.5"/>
<text class="t" x="875" y="526" font-size="20" textLength="34" lengthAdjust="spacingAndGlyphs">К1.5</text>
<path class="ld" d="M866 554L922.5 554"/>
<path class="ld" d="M866 554L846 549"/>
<text class="t" x="875" y="550" font-size="20" textLength="37.5" lengthAdjust="spacingAndGlyphs">К2.4</text>
<path class="ld" d="M866 579L919 579"/>
<path class="ld" d="M866 579L825 580"/>
<text class="t" x="875" y="576" font-size="20" textLength="35" lengthAdjust="spacingAndGlyphs">К1.8</text>
<path class="ld" d="M866 604L921 604"/>
<path class="ld" d="M866 604L829.5 613"/>
<text class="t" x="875" y="600" font-size="20" textLength="37" lengthAdjust="spacingAndGlyphs">К2.2</text>
<path class="ld" d="M310 738L360 738"/>
<path class="ld" d="M360 738L394.5 631"/>
<text class="t" x="319" y="734" font-size="20" textLength="33.5" lengthAdjust="spacingAndGlyphs">К1.1</text>
<path class="ld" d="M474 720L526 720"/>
<path class="ld" d="M526 720L567.5 653"/>
<text class="t" x="482.5" y="716" font-size="20" textLength="35" lengthAdjust="spacingAndGlyphs">К2.1</text>
<path class="ld" d="M745 720L797.5 720"/>
<path class="ld" d="M797.5 720L839 653"/>
<text class="t" x="754" y="716" font-size="20" textLength="35" lengthAdjust="spacingAndGlyphs">К2.1</text>
<path class="ld" d="M565 770.8L632.5 770.8"/>
<path class="ld" d="M632.5 770.8L678 845"/>
<text class="t" x="574" y="765.5" font-size="18.5" textLength="55" lengthAdjust="spacingAndGlyphs">Резерв</text>
<path class="ld" d="M990 701L1030 701"/>
<path class="ld" d="M990 701L940.8 673.3"/>
<text class="t" x="999" y="697.5" font-size="20" textLength="23.5" lengthAdjust="spacingAndGlyphs">К2</text>
<path class="ld" d="M992.5 854L1061 854"/>
<path class="ld" d="M992.5 854L943.8 732.5"/>
<text class="t" x="1002.5" y="849.5" font-size="18.5" textLength="53.5" lengthAdjust="spacingAndGlyphs">Резерв</text>
<path class="ld" d="M155.5 1021.5L196 1021.5"/>
<path class="ld" d="M196 1021.5L285.5 900.3"/>
<text class="t" x="164" y="1017.6" font-size="20" textLength="21" lengthAdjust="spacingAndGlyphs">К6</text>
<path class="ld" d="M234 1021.3L304 1021.3"/>
<path class="ld" d="M304 1021.3L345 856"/>
<text class="t" x="242.5" y="1016" font-size="18.5" textLength="55" lengthAdjust="spacingAndGlyphs">Резерв</text>
<path class="ld" d="M482.5 1021.3L524 1021.3"/>
<path class="ld" d="M482.5 1021.3L390 856.5"/>
<path class="ld" d="M482.5 1021.3L352 862.5"/>
<text class="t" x="491" y="1017.5" font-size="20" textLength="23" lengthAdjust="spacingAndGlyphs">К3</text>
<path class="ld" d="M578 1021.3L620 1021.3"/>
<path class="ld" d="M620 1021.3L679.6 863.3"/>
<path class="ld" d="M620 1021.3L708 861.6"/>
<text class="t" x="586" y="1017.5" font-size="20" textLength="23" lengthAdjust="spacingAndGlyphs">К4</text>
<path class="ld" d="M799 1021.3L839 1021.3"/>
<path class="ld" d="M799 1021.3L749.5 936.3"/>
<text class="t" x="807.5" y="1017.5" font-size="20" textLength="22.5" lengthAdjust="spacingAndGlyphs">К5</text>
<circle class="dot" cx="348" cy="136" r="2.9"/>
<circle class="dot" cx="632.5" cy="93.8" r="2.9"/>
<circle class="dot" cx="903.8" cy="91.8" r="2.9"/>
<circle class="dot" cx="481" cy="288.8" r="2.9"/>
<circle class="dot" cx="745.5" cy="294.5" r="2.9"/>
<circle class="dot" cx="327" cy="442.3" r="2.9"/>
<circle class="dot" cx="325" cy="460" r="2.9"/>
<circle class="dot" cx="370.5" cy="496" r="2.9"/>
<circle class="dot" cx="369" cy="504" r="2.9"/>
<circle class="dot" cx="382" cy="503.5" r="2.9"/>
<circle class="dot" cx="453.8" cy="590.5" r="2.9"/>
<circle class="dot" cx="519" cy="446.8" r="2.9"/>
<circle class="dot" cx="518" cy="456.8" r="2.9"/>
<circle class="dot" cx="596" cy="460" r="2.9"/>
<circle class="dot" cx="598" cy="442" r="2.9"/>
<circle class="dot" cx="574.5" cy="531.5" r="2.9"/>
<circle class="dot" cx="573.8" cy="541.8" r="2.9"/>
<circle class="dot" cx="571" cy="525.8" r="2.9"/>
<circle class="dot" cx="553" cy="580" r="2.9"/>
<circle class="dot" cx="558" cy="613" r="2.9"/>
<circle class="dot" cx="669" cy="615.5" r="2.9"/>
<circle class="dot" cx="635" cy="500.8" r="2.9"/>
<circle class="dot" cx="645.5" cy="501.5" r="2.9"/>
<circle class="dot" cx="653.8" cy="503.8" r="2.9"/>
<circle class="dot" cx="788" cy="444" r="2.9"/>
<circle class="dot" cx="790" cy="462.8" r="2.9"/>
<circle class="dot" cx="725" cy="583.3" r="2.9"/>
<circle class="dot" cx="845.8" cy="531.5" r="2.9"/>
<circle class="dot" cx="845.5" cy="541.5" r="2.9"/>
<circle class="dot" cx="846" cy="549" r="2.9"/>
<circle class="dot" cx="825" cy="580" r="2.9"/>
<circle class="dot" cx="829.5" cy="613" r="2.9"/>
<circle class="dot" cx="394.5" cy="631" r="2.9"/>
<circle class="dot" cx="567.5" cy="653" r="2.9"/>
<circle class="dot" cx="839" cy="653" r="2.9"/>
<circle class="dot" cx="940.8" cy="673.3" r="2.9"/>
<circle class="dot" cx="285.5" cy="900.3" r="2.9"/>
<circle class="dot" cx="390" cy="856.5" r="2.9"/>
<circle class="dot" cx="352" cy="862.5" r="2.9"/>
<circle class="dot" cx="679.6" cy="863.3" r="2.9"/>
<circle class="dot" cx="708" cy="861.6" r="2.9"/>
<circle class="dot" cx="749.5" cy="936.3" r="2.9"/>
<text class="t" x="1300" y="311.3" font-size="30" textLength="425.5" lengthAdjust="spacingAndGlyphs">Состав водогрейной котельной</text>
<path class="tb" d="M1067.5 323L1843.6 323"/>
<path class="tb" d="M1067.5 379.2L1843.6 379.2"/>
<path class="tb" d="M1067.5 418.2L1843.6 418.2"/>
<path class="tb" d="M1067.5 444.2L1843.6 444.2"/>
<path class="tb" d="M1067.5 470L1843.6 470"/>
<path class="tb" d="M1067.5 496.2L1843.6 496.2"/>
<path class="tb" d="M1067.5 534.6L1843.6 534.6"/>
<path class="tb" d="M1067.5 560.7L1843.6 560.7"/>
<path class="tb" d="M1067.5 586.4L1843.6 586.4"/>
<path class="tb" d="M1067.5 612.5L1843.6 612.5"/>
<path class="tb" d="M1067.5 641.2L1843.6 641.2"/>
<path class="tb" d="M1067.5 676.2L1843.6 676.2"/>
<path class="tb" d="M1067.5 711.7L1843.6 711.7"/>
<path class="tb" d="M1067.5 746.6L1843.6 746.6"/>
<path class="tb" d="M1067.5 781.4L1843.6 781.4"/>
<path class="tb" d="M1067.5 816.2L1843.6 816.2"/>
<path class="tb" d="M1067.5 851.4L1843.6 851.4"/>
<path class="tb" d="M1067.5 877.5L1843.6 877.5"/>
<path class="tb" d="M1067.5 903.5L1843.6 903.5"/>
<path class="tb" d="M1067.5 942.5L1843.6 942.5"/>
<path class="tb" d="M1067.5 968.5L1843.6 968.5"/>
<path class="tb" d="M1067.5 994.3L1843.6 994.3"/>
<path class="tb" d="M1067.5 323L1067.5 1021.4"/>
<path class="tb" d="M1119.7 323L1119.7 1021.4"/>
<path class="tb" d="M1369 323L1369 1021.4"/>
<path class="tb" d="M1639 323L1639 1021.4"/>
<path class="tb" d="M1692.7 323L1692.7 1021.4"/>
<text class="t" x="1093.6" y="337.5" font-size="16" textLength="39" lengthAdjust="spacingAndGlyphs" text-anchor="middle">Марк</text>
<text class="t" x="1092.6" y="357.5" font-size="16" textLength="8" lengthAdjust="spacingAndGlyphs" text-anchor="middle">а</text>
<text class="t" x="1093.6" y="378.5" font-size="16" textLength="34" lengthAdjust="spacingAndGlyphs" text-anchor="middle">Поз.</text>
<text class="t" x="1193.5" y="358" font-size="16" textLength="100.5" lengthAdjust="spacingAndGlyphs">Обозначение</text>
<text class="t" x="1446.7" y="358" font-size="16" textLength="112.5" lengthAdjust="spacingAndGlyphs">Наименование</text>
<text class="t" x="1649" y="358" font-size="16" textLength="35" lengthAdjust="spacingAndGlyphs">Кол.</text>
<text class="t" x="1720.7" y="356.5" font-size="16" textLength="92.9" lengthAdjust="spacingAndGlyphs">Примечание</text>
<text class="t" x="1093.1" y="405" font-size="16.5" textLength="21" lengthAdjust="spacingAndGlyphs" text-anchor="middle">К 1</text>
<text class="t" x="1243.85" y="403.5" font-size="16" textLength="20" lengthAdjust="spacingAndGlyphs" text-anchor="middle">КВ</text>
<text class="t" x="1503.5" y="394.1" font-size="16" textLength="242" lengthAdjust="spacingAndGlyphs" text-anchor="middle">Стальной водогрейный котел с</text>
<text class="t" x="1503.5" y="413.7" font-size="16" textLength="223" lengthAdjust="spacingAndGlyphs" text-anchor="middle">рабочим давлением  0,6  МПа</text>
<text class="t" x="1666.35" y="405.2" font-size="17" text-anchor="middle">1</text>
<text class="t" x="1093.1" y="437.5" font-size="16.5" textLength="31" lengthAdjust="spacingAndGlyphs" text-anchor="middle">К 1.1</text>
<text class="t" x="1243.85" y="436" font-size="16" textLength="79" lengthAdjust="spacingAndGlyphs" text-anchor="middle">ВР 280-46</text>
<text class="t" x="1503.5" y="435.5" font-size="16" textLength="179.5" lengthAdjust="spacingAndGlyphs" text-anchor="middle">Вентилятор дутьевой</text>
<text class="t" x="1666.35" y="437.7" font-size="17" text-anchor="middle">1</text>
<text class="t" x="1093.1" y="463.4" font-size="16.5" textLength="33" lengthAdjust="spacingAndGlyphs" text-anchor="middle">К 1.2</text>
<text class="t" x="1503.5" y="461.4" font-size="16" textLength="224" lengthAdjust="spacingAndGlyphs" text-anchor="middle">Клапан предохранительный</text>
<text class="t" x="1665.85" y="462.1" font-size="13.5" textLength="43.6" lengthAdjust="spacingAndGlyphs" text-anchor="middle">компл.</text>
<text class="t" x="1093.1" y="489.4" font-size="16.5" textLength="33" lengthAdjust="spacingAndGlyphs" text-anchor="middle">К 1.3</text>
<text class="t" x="1503.5" y="487.4" font-size="16" textLength="78.6" lengthAdjust="spacingAndGlyphs" text-anchor="middle">Манометр</text>
<text class="t" x="1666.35" y="489.6" font-size="17" text-anchor="middle">1</text>
<text class="t" x="1093.1" y="521.7" font-size="16.5" textLength="33" lengthAdjust="spacingAndGlyphs" text-anchor="middle">К 1.4</text>
<text class="t" x="1503.5" y="519.7" font-size="16" textLength="78.6" lengthAdjust="spacingAndGlyphs" text-anchor="middle">Манометр</text>
<text class="t" x="1666.35" y="521.9" font-size="17" text-anchor="middle">1</text>
<text class="t" x="1768.15" y="512.9" font-size="14" textLength="139" lengthAdjust="spacingAndGlyphs" text-anchor="middle">Допускается замена</text>
<text class="t" x="1768.15" y="529.9" font-size="14" textLength="64.6" lengthAdjust="spacingAndGlyphs" text-anchor="middle">поз. К 2.3</text>
<text class="t" x="1093.1" y="553.95" font-size="16.5" textLength="33" lengthAdjust="spacingAndGlyphs" text-anchor="middle">К 1.5</text>
<text class="t" x="1503.5" y="551.95" font-size="16" textLength="84.6" lengthAdjust="spacingAndGlyphs" text-anchor="middle">Термометр</text>
<text class="t" x="1666.35" y="554.15" font-size="17" text-anchor="middle">2</text>
<text class="t" x="1093.1" y="579.85" font-size="16.5" textLength="33" lengthAdjust="spacingAndGlyphs" text-anchor="middle">К 1.6</text>
<text class="t" x="1503.5" y="577.85" font-size="16" textLength="84.6" lengthAdjust="spacingAndGlyphs" text-anchor="middle">Термометр</text>
<text class="t" x="1666.35" y="580.05" font-size="17" text-anchor="middle">1</text>
<text class="t" x="1768.15" y="579.05" font-size="14" textLength="147.7" lengthAdjust="spacingAndGlyphs" text-anchor="middle">Постав. по согласов.</text>
<text class="t" x="1093.1" y="605.75" font-size="16.5" textLength="33" lengthAdjust="spacingAndGlyphs" text-anchor="middle">К 1.7</text>
<text class="t" x="1503.5" y="603.75" font-size="16" textLength="97" lengthAdjust="spacingAndGlyphs" text-anchor="middle">Вакуумметр</text>
<text class="t" x="1666.35" y="605.95" font-size="17" text-anchor="middle">1</text>
<text class="t" x="1768.15" y="604.95" font-size="14" textLength="147.7" lengthAdjust="spacingAndGlyphs" text-anchor="middle">Постав. по согласов.</text>
<text class="t" x="1093.1" y="633.15" font-size="16.5" textLength="33" lengthAdjust="spacingAndGlyphs" text-anchor="middle">К 1.8</text>
<text class="t" x="1503.5" y="631.15" font-size="16" textLength="135.5" lengthAdjust="spacingAndGlyphs" text-anchor="middle">Мановакуумметр</text>
<text class="t" x="1666.35" y="633.35" font-size="17" text-anchor="middle">1</text>
<text class="t" x="1768.15" y="632.35" font-size="14" textLength="147.7" lengthAdjust="spacingAndGlyphs" text-anchor="middle">Постав. по согласов.</text>
<text class="t" x="1093.1" y="665" font-size="16.5" textLength="23" lengthAdjust="spacingAndGlyphs" text-anchor="middle">К 2</text>
<text class="t" x="1243.85" y="663.5" font-size="16" textLength="62" lengthAdjust="spacingAndGlyphs" text-anchor="middle">ШУК ВТ</text>
<text class="t" x="1503.5" y="654.1" font-size="16" textLength="242" lengthAdjust="spacingAndGlyphs" text-anchor="middle">Шит управления водогрейным</text>
<text class="t" x="1503.5" y="675.7" font-size="16" textLength="58.5" lengthAdjust="spacingAndGlyphs" text-anchor="middle">котлом</text>
<text class="t" x="1666.35" y="665.2" font-size="17" text-anchor="middle">1</text>
<text class="t" x="1768.15" y="664.2" font-size="14" textLength="147.7" lengthAdjust="spacingAndGlyphs" text-anchor="middle">Постав. по согласов.</text>
<text class="t" x="1093.1" y="700.25" font-size="16.5" textLength="34" lengthAdjust="spacingAndGlyphs" text-anchor="middle">К 2.1</text>
<text class="t" x="1503.5" y="698.25" font-size="16" textLength="111.4" lengthAdjust="spacingAndGlyphs" text-anchor="middle">Реле протока</text>
<text class="t" x="1666.35" y="700.45" font-size="17" text-anchor="middle">1</text>
<text class="t" x="1768.15" y="699.45" font-size="14" textLength="127" lengthAdjust="spacingAndGlyphs" text-anchor="middle">Постав. с ШУК ВТ</text>
<text class="t" x="1093.1" y="735.45" font-size="16.5" textLength="35.5" lengthAdjust="spacingAndGlyphs" text-anchor="middle">К 2.2</text>
<text class="t" x="1503.5" y="733.45" font-size="16" textLength="244.6" lengthAdjust="spacingAndGlyphs" text-anchor="middle">Датчик контроля разряжения</text>
<text class="t" x="1666.35" y="735.65" font-size="17" text-anchor="middle">1</text>
<text class="t" x="1768.15" y="734.65" font-size="14" textLength="127" lengthAdjust="spacingAndGlyphs" text-anchor="middle">Постав. с ШУК ВТ</text>
<text class="t" x="1093.1" y="770.3" font-size="16.5" textLength="35.5" lengthAdjust="spacingAndGlyphs" text-anchor="middle">К 2.3</text>
<text class="t" x="1503.5" y="768.3" font-size="16" textLength="250.5" lengthAdjust="spacingAndGlyphs" text-anchor="middle">Электроконтактный манометр</text>
<text class="t" x="1666.35" y="770.5" font-size="17" text-anchor="middle">1</text>
<text class="t" x="1768.15" y="769.5" font-size="14" textLength="127" lengthAdjust="spacingAndGlyphs" text-anchor="middle">Постав. с ШУК ВТ</text>
<text class="t" x="1093.1" y="805.1" font-size="16.5" textLength="35.5" lengthAdjust="spacingAndGlyphs" text-anchor="middle">К 2.4</text>
<text class="t" x="1503.5" y="803.1" font-size="16" textLength="185" lengthAdjust="spacingAndGlyphs" text-anchor="middle">Термопреобразователь</text>
<text class="t" x="1666.35" y="805.3" font-size="17" text-anchor="middle">2</text>
<text class="t" x="1768.15" y="804.3" font-size="14" textLength="127" lengthAdjust="spacingAndGlyphs" text-anchor="middle">Постав. с ШУК ВТ</text>
<text class="t" x="1093.1" y="840.1" font-size="16.5" textLength="23" lengthAdjust="spacingAndGlyphs" text-anchor="middle">К 3</text>
<text class="t" x="1503.5" y="829.2" font-size="16" textLength="183.6" lengthAdjust="spacingAndGlyphs" text-anchor="middle">Насос циркуляционный</text>
<text class="t" x="1503.5" y="850.8" font-size="16" textLength="85" lengthAdjust="spacingAndGlyphs" text-anchor="middle">теплосети</text>
<text class="t" x="1666.35" y="840.3" font-size="17" text-anchor="middle">1</text>
<text class="t" x="1768.15" y="839.3" font-size="14" textLength="147.7" lengthAdjust="spacingAndGlyphs" text-anchor="middle">Постав. по согласов.</text>
<text class="t" x="1093.1" y="870.75" font-size="16.5" textLength="23" lengthAdjust="spacingAndGlyphs" text-anchor="middle">К 4</text>
<text class="t" x="1503.5" y="868.75" font-size="16" textLength="249" lengthAdjust="spacingAndGlyphs" text-anchor="middle">Насос подпиточный теплосети</text>
<text class="t" x="1666.35" y="870.95" font-size="17" text-anchor="middle">1</text>
<text class="t" x="1768.15" y="869.95" font-size="14" textLength="147.7" lengthAdjust="spacingAndGlyphs" text-anchor="middle">Постав. по согласов.</text>
<text class="t" x="1093.1" y="896.8" font-size="16.5" textLength="23" lengthAdjust="spacingAndGlyphs" text-anchor="middle">К 5</text>
<text class="t" x="1243.85" y="895.3" font-size="16" textLength="138.2" lengthAdjust="spacingAndGlyphs" text-anchor="middle">Бак запаса воды</text>
<text class="t" x="1666.35" y="897" font-size="17" text-anchor="middle">1</text>
<text class="t" x="1768.15" y="896" font-size="14" textLength="147.7" lengthAdjust="spacingAndGlyphs" text-anchor="middle">Постав. по согласов.</text>
<text class="t" x="1093.1" y="929.3" font-size="16.5" textLength="23" lengthAdjust="spacingAndGlyphs" text-anchor="middle">К 6</text>
<text class="t" x="1243.85" y="916.3" font-size="16" textLength="170" lengthAdjust="spacingAndGlyphs" text-anchor="middle">Бак расширительный</text>
<text class="t" x="1243.85" y="936.5" font-size="16" textLength="94.7" lengthAdjust="spacingAndGlyphs" text-anchor="middle">мембранный</text>
<text class="t" x="1666.35" y="929.5" font-size="17" text-anchor="middle">1</text>
<text class="t" x="1768.15" y="928.5" font-size="14" textLength="147.7" lengthAdjust="spacingAndGlyphs" text-anchor="middle">Постав. по согласов.</text>
<text class="t" x="1093.1" y="961.8" font-size="16.5" textLength="23" lengthAdjust="spacingAndGlyphs" text-anchor="middle">К 7</text>
<text class="t" x="1243.85" y="960.3" font-size="16" textLength="204.4" lengthAdjust="spacingAndGlyphs" text-anchor="middle">Золоуловитель (циклон)</text>
<text class="t" x="1666.35" y="962" font-size="17" text-anchor="middle">1</text>
<text class="t" x="1768.15" y="961" font-size="14" textLength="147.7" lengthAdjust="spacingAndGlyphs" text-anchor="middle">Постав. по согласов.</text>
<text class="t" x="1093.1" y="987.7" font-size="16.5" textLength="23" lengthAdjust="spacingAndGlyphs" text-anchor="middle">К 8</text>
<text class="t" x="1243.85" y="986.2" font-size="16" textLength="64.7" lengthAdjust="spacingAndGlyphs" text-anchor="middle">Дымосос</text>
<text class="t" x="1666.35" y="987.9" font-size="17" text-anchor="middle">1</text>
<text class="t" x="1768.15" y="986.9" font-size="14" textLength="147.7" lengthAdjust="spacingAndGlyphs" text-anchor="middle">Постав. по согласов.</text>
<text class="t" x="1093.1" y="1014.15" font-size="16.5" textLength="23" lengthAdjust="spacingAndGlyphs" text-anchor="middle">К 9</text>
<text class="t" x="1243.85" y="1012.65" font-size="16" textLength="119.7" lengthAdjust="spacingAndGlyphs" text-anchor="middle">Труба дымовая</text>
<text class="t" x="1666.35" y="1014.35" font-size="17" text-anchor="middle">1</text>
<text class="t" x="1768.15" y="1013.35" font-size="14" textLength="147.7" lengthAdjust="spacingAndGlyphs" text-anchor="middle">Постав. по согласов.</text>
<text class="t" x="407.2" y="1119.3" font-size="29.5" textLength="325.6" lengthAdjust="spacingAndGlyphs">Экспликация помещений</text>
<path class="tb" d="M173.8 1141.5L971.7 1141.5"/>
<path class="tb" d="M173.8 1218.6L971.7 1218.6"/>
<path class="tb" d="M173.8 1240.5L971.7 1240.5"/>
<path class="tb" d="M173.8 1141.5L173.8 1240.5"/>
<path class="tb" d="M216.6 1141.5L216.6 1240.5"/>
<path class="tb" d="M496.2 1141.5L496.2 1240.5"/>
<path class="tb" d="M583 1141.5L583 1240.5"/>
<path class="tb" d="M712.5 1141.5L712.5 1240.5"/>
<path class="tb" d="M798.5 1141.5L798.5 1240.5"/>
<path class="tb" d="M906.3 1141.5L906.3 1240.5"/>
<path class="tb" d="M971.7 1141.5L971.7 1240.5"/>
<text class="t" x="188.4" y="1185.3" font-size="15.5" textLength="13.6" lengthAdjust="spacingAndGlyphs">№</text>
<text class="t" x="235" y="1184" font-size="16" textLength="241.6" lengthAdjust="spacingAndGlyphs">Наименование цеха или участка</text>
<text class="t" x="506.3" y="1156.6" font-size="14.5" textLength="67.2" lengthAdjust="spacingAndGlyphs">Категория</text>
<text class="t" x="506.8" y="1175.7" font-size="14.5" textLength="66.7" lengthAdjust="spacingAndGlyphs">помещения</text>
<text class="t" x="517.7" y="1194.9" font-size="14.5" textLength="44.3" lengthAdjust="spacingAndGlyphs">по НПБ</text>
<text class="t" x="521" y="1214.1" font-size="14.5" textLength="39" lengthAdjust="spacingAndGlyphs">105-03</text>
<text class="t" x="589.5" y="1156.6" font-size="15" textLength="115.3" lengthAdjust="spacingAndGlyphs">Характеристика</text>
<text class="t" x="591.7" y="1175.7" font-size="15" textLength="111.6" lengthAdjust="spacingAndGlyphs">среды или класс</text>
<text class="t" x="600" y="1194.9" font-size="15" textLength="95.6" lengthAdjust="spacingAndGlyphs">помещения по</text>
<text class="t" x="634.4" y="1214.1" font-size="15" textLength="26.9" lengthAdjust="spacingAndGlyphs">ПУЭ</text>
<text class="t" x="721.9" y="1175.7" font-size="16" textLength="67.8" lengthAdjust="spacingAndGlyphs">Площадь,</text>
<text class="t" x="745.5" y="1194.9" font-size="16" textLength="19" lengthAdjust="spacingAndGlyphs">м 2</text>
<text class="t" x="805" y="1164.2" font-size="14.5" textLength="95.2" lengthAdjust="spacingAndGlyphs">Необходимость в</text>
<text class="t" x="806" y="1183.9" font-size="14.5" textLength="93" lengthAdjust="spacingAndGlyphs">автоматической</text>
<text class="t" x="802.4" y="1202.6" font-size="14.5" textLength="100" lengthAdjust="spacingAndGlyphs">пожарной защите</text>
<text class="t" x="912.7" y="1175.7" font-size="16" textLength="53.1" lengthAdjust="spacingAndGlyphs">Приме -</text>
<text class="t" x="918.8" y="1194.9" font-size="16" textLength="39.8" lengthAdjust="spacingAndGlyphs">чание</text>
<text class="t" x="196.5" y="1234.7" font-size="16.5" text-anchor="middle">1</text>
<text class="t" x="225.2" y="1234.7" font-size="16" textLength="109.8" lengthAdjust="spacingAndGlyphs">Котельный зал</text>
<text class="t" x="529.3" y="1234.7" font-size="16" textLength="19.7" lengthAdjust="spacingAndGlyphs">В 4</text>
<text class="t" x="628.9" y="1233" font-size="16" textLength="38.3" lengthAdjust="spacingAndGlyphs">норм.</text>
<path class="tk" d="M850.5 1231L856.4 1231"/>
<path class="fr" d="M1046 1021.4L1843.6 1021.4"/>
<path class="fr" d="M1046 1021.4L1046 1258.5"/>
<path class="fr2" d="M1046 1042.95L1326.3 1042.95"/>
<path class="fr2" d="M1046 1064.51L1326.3 1064.51"/>
<path class="fr2" d="M1046 1086.07L1326.3 1086.07"/>
<path class="fr" d="M1046 1107.62L1326.3 1107.62"/>
<path class="fr" d="M1046 1129.17L1326.3 1129.17"/>
<path class="fr2" d="M1046 1150.73L1326.3 1150.73"/>
<path class="fr2" d="M1046 1172.28L1326.3 1172.28"/>
<path class="fr2" d="M1046 1193.84L1326.3 1193.84"/>
<path class="fr2" d="M1046 1215.39L1326.3 1215.39"/>
<path class="fr2" d="M1046 1236.95L1326.3 1236.95"/>
<path class="fr" d="M1076.4 1021.4L1076.4 1129.17"/>
<path class="fr" d="M1119.3 1021.4L1119.3 1258.5"/>
<path class="fr" d="M1218.1 1021.4L1218.1 1258.5"/>
<path class="fr" d="M1283.3 1021.4L1283.3 1258.5"/>
<path class="fr" d="M1326.3 1021.4L1326.3 1258.5"/>
<path class="fr" d="M1326.3 1064.7L1843.6 1064.7"/>
<path class="fr" d="M1326.3 1129L1843.6 1129"/>
<path class="fr" d="M1326.3 1194L1843.6 1194"/>
<path class="fr" d="M1606.3 1129L1606.3 1258.5"/>
<path class="fr" d="M1606.3 1150.6L1843.6 1150.6"/>
<path class="fr" d="M1671 1129L1671 1194"/>
<path class="fr" d="M1744.1 1129L1744.1 1194"/>
<text class="t" x="1051.5" y="1125.6" font-size="17" textLength="25.5" lengthAdjust="spacingAndGlyphs">Изм</text>
<text class="t" x="1079" y="1125.6" font-size="17" textLength="39.6" lengthAdjust="spacingAndGlyphs">Лист</text>
<text class="t" x="1124" y="1125.6" font-size="17" textLength="63.5" lengthAdjust="spacingAndGlyphs">N докум</text>
<text class="t" x="1226" y="1125.6" font-size="17" textLength="39.8" lengthAdjust="spacingAndGlyphs">Подп.</text>
<text class="t" x="1284.9" y="1125.6" font-size="17" textLength="41.5" lengthAdjust="spacingAndGlyphs">Дата</text>
<text class="t" x="1048" y="1147" font-size="17" textLength="59.7" lengthAdjust="spacingAndGlyphs">Проект.</text>
<text class="t" x="1048" y="1168.9" font-size="17" textLength="71.7" lengthAdjust="spacingAndGlyphs">Проверил</text>
<text class="t" x="1048" y="1189.9" font-size="17" textLength="29" lengthAdjust="spacingAndGlyphs">ГИП</text>
<text class="t" x="1326.2" y="1275.6" font-size="17" textLength="86.1" lengthAdjust="spacingAndGlyphs">Копировал:</text>
<text class="t" x="1751.1" y="1275.6" font-size="17" textLength="86.4" lengthAdjust="spacingAndGlyphs">Формат А3</text>
<text class="t" x="1516" y="1054.4" font-size="31" textLength="164" lengthAdjust="spacingAndGlyphs">КУ-В-00-ТМ</text>
<text class="t" x="1452" y="1093.8" font-size="16.5" textLength="314.3" lengthAdjust="spacingAndGlyphs">Схема подключения твердотопливного</text>
<text class="t" x="1490" y="1109" font-size="16.5" textLength="237.8" lengthAdjust="spacingAndGlyphs">котла работающего на угле</text>
<text class="t" x="1346.7" y="1155.4" font-size="17" textLength="240.5" lengthAdjust="spacingAndGlyphs">Котельная.Типовые решения.</text>
<text class="t" x="1350.4" y="1176.5" font-size="17" textLength="235.4" lengthAdjust="spacingAndGlyphs">Тепломеханические решения.</text>
<text class="t" x="1330.7" y="1209" font-size="17" textLength="273.3" lengthAdjust="spacingAndGlyphs">План расстановки оборудования,</text>
<text class="t" x="1338.3" y="1230.8" font-size="17" textLength="254.5" lengthAdjust="spacingAndGlyphs">трубопроводов и дымоходов на</text>
<text class="t" x="1405.8" y="1251.9" font-size="17" textLength="120.9" lengthAdjust="spacingAndGlyphs">отметку 0,000</text>
<text class="t" x="1613.9" y="1145.8" font-size="17" textLength="57.6" lengthAdjust="spacingAndGlyphs">Стадия</text>
<text class="t" x="1690.7" y="1145.8" font-size="17" textLength="37.7" lengthAdjust="spacingAndGlyphs">Лист</text>
<text class="t" x="1770" y="1145.8" font-size="17" textLength="56.3" lengthAdjust="spacingAndGlyphs">Листов</text>
<text class="t" x="1629.4" y="1176" font-size="17" textLength="21.9" lengthAdjust="spacingAndGlyphs">РП</text>
<path class="tk" d="M1707.6 1171.7L1713.8 1171.7"/>
<path class="tk" d="M1795.3 1171.7L1801.5 1171.7"/>
<path d="M1616.2 1206.6Q1617.6 1205.9 1619.2 1206.4L1632.7 1209.3 1646.3 1205.9Q1648.6 1205.6 1649.8 1207.4Q1650.6 1209 1650.4 1212.5Q1650.4 1217.5 1648.6 1218.9Q1650.5 1220.6 1650.5 1226.5Q1650.5 1232.5 1648.6 1234Q1650.4 1235.8 1650.3 1240.5Q1650.3 1245.8 1648.9 1246.7Q1647.6 1247.6 1646 1247L1634.2 1243.5 1619.6 1247.5Q1617.4 1248 1616 1246.5Q1615.2 1245.4 1615.3 1240.8Q1615.3 1236.2 1616.8 1234.6Q1615.2 1233 1615.3 1227.5Q1615.3 1221.4 1617 1219.4Q1615.3 1217.8 1615.2 1212.5Q1615.2 1207.6 1616.2 1206.6Z" fill="#000"/>
<path d="M1613.9 1220L1645.2 1212.5M1621.3 1225.4L1651.6 1218.6M1613.9 1235.1L1645.2 1228.2M1620.9 1240.7L1651.6 1233.8" stroke="#fff" stroke-width="1.7" stroke-linecap="round" fill="none"/>
<g transform="translate(1608 1198) scale(0.07292)" fill="#000">
<path d="M695 115H772V680H695Z M772 300L866 115H948L824 388 962 680H878L772 450Z"/>
<path d="M975 115H1056L1102 540 1149 115H1228L1142 680H1064Z"/>
<path d="M1265 115H1466V192L1336 608H1466V680H1250V603L1380 187H1265Z"/>
<path d="M1525 115H1771V410H1640V340H1696V187H1601V680H1525Z M1640 400H1714L1778 680H1700L1640 440Z"/>
</g>
<text x="1748.3" y="1225.3" font-family="Liberation Sans, sans-serif" font-size="17" textLength="86.4" lengthAdjust="spacingAndGlyphs" fill="#222">КОТЕЛЬНЫЙ</text>
<text x="1748.9" y="1245.8" font-family="Liberation Sans, sans-serif" font-size="17" textLength="47.8" lengthAdjust="spacingAndGlyphs" fill="#222">ЗАВОД</text>
<text x="1806.5" y="1245.8" font-family="Liberation Sans, sans-serif" font-size="17" textLength="27.2" lengthAdjust="spacingAndGlyphs" fill="#222">РЭП</text>
</svg></body></html>
